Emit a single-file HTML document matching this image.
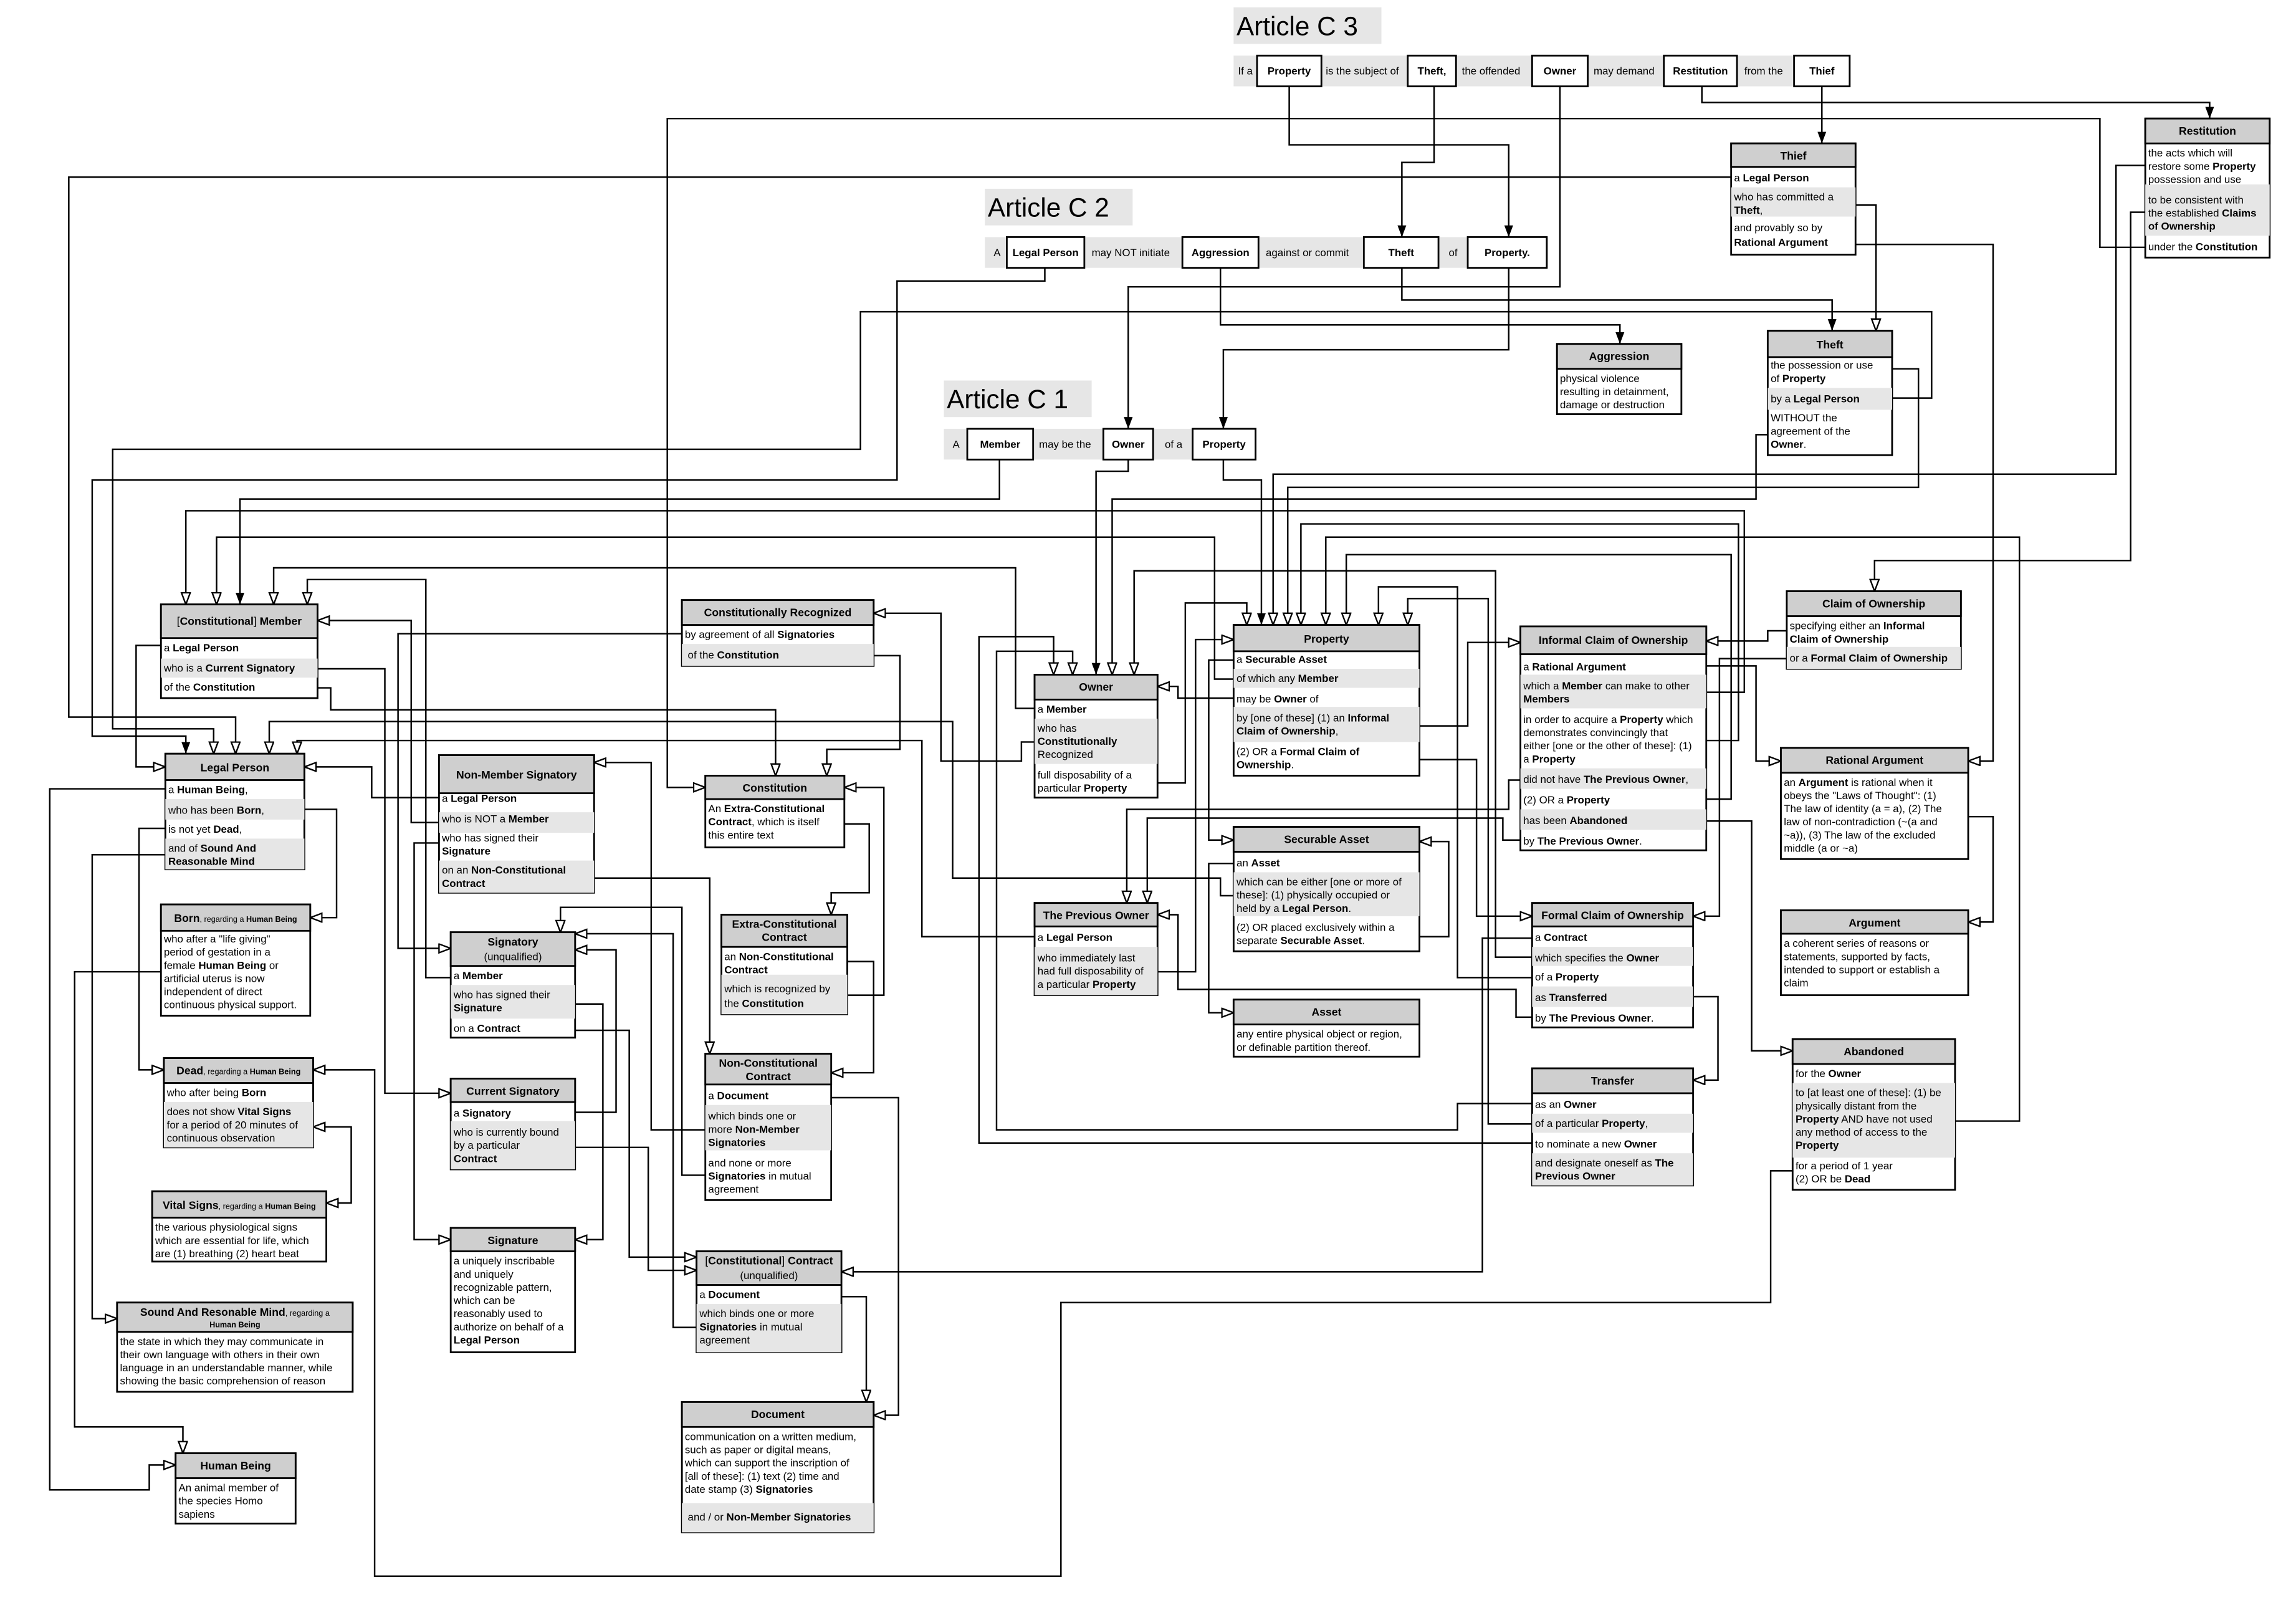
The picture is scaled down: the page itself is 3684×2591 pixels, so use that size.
<!DOCTYPE html>
<html><head><meta charset="utf-8"><style>
html,body{margin:0;padding:0;background:#fff}
svg{display:block}
.t{font-family:"Liberation Sans",Arial,sans-serif;font-size:7.2px;fill:#000}
.h{font-family:"Liberation Sans",Arial,sans-serif;font-size:7.5px;font-weight:bold;fill:#000}
.s{font-size:5.4px}
.b{font-weight:bold}
.l{fill:none;stroke:#000;stroke-width:1.05}
.bx{fill:#fff;stroke:#000;stroke-width:1.2}
.hd{fill:#cfcfcf;stroke:#000;stroke-width:1.2}
.g{fill:#e6e6e6}
.ti{font-family:"Liberation Sans",Arial,sans-serif;font-size:18px;fill:#000}
</style></head><body>
<svg width="3684" height="2591" viewBox="0 0 1569 1103.5" preserveAspectRatio="none" xmlns="http://www.w3.org/2000/svg">
<defs>
<marker id="f" markerUnits="userSpaceOnUse" markerWidth="9" markerHeight="7" refX="8" refY="3" orient="auto"><path d="M0,0 L8,3 L0,6 z" fill="#000"/></marker>
<marker id="o" markerUnits="userSpaceOnUse" markerWidth="10" markerHeight="8" refX="8.5" refY="3.5" orient="auto"><path d="M0.5,0.5 L8.5,3.5 L0.5,6.5 z" fill="#fff" stroke="#000" stroke-width="1"/></marker>
<marker id="os" markerUnits="userSpaceOnUse" markerWidth="10" markerHeight="8" refX="0.5" refY="3.5" orient="auto"><path d="M8.5,0.5 L0.5,3.5 L8.5,6.5 z" fill="#fff" stroke="#000" stroke-width="1"/></marker>
</defs>
<rect width="1569" height="1103.5" fill="#fff"/>

<!-- ===== connectors ===== -->
<g class="l">
<polyline points="881,59 881,99 1031,99 1031,162" marker-end="url(#f)"/>
<polyline points="980,59 980,111 958,111 958,162" marker-end="url(#f)"/>
<polyline points="1066,59 1066,196 771,196 771,293" marker-end="url(#f)"/>
<polyline points="1163,59 1163,70 1510,70 1510,81" marker-end="url(#f)"/>
<polyline points="1245,59 1245,98" marker-end="url(#f)"/>
<polyline points="834,183 834,222 1107,222 1107,235" marker-end="url(#f)"/>
<polyline points="958,183 958,205 1252,205 1252,226" marker-end="url(#f)"/>
<polyline points="1031,183 1031,239 836,239 836,293" marker-end="url(#f)"/>
<polyline points="1466,169 1435,169 1435,81 456,81 456,538 482,538" marker-end="url(#o)"/>
<polyline points="1183,121 47,121 47,490 161,490 161,515" marker-end="url(#o)"/>
<polyline points="714,183 714,192 613,192 613,328 63,328 63,503 127,503 127,515" marker-end="url(#f)"/>
<polyline points="1293,272 1320,272 1320,213 588,213 588,307 77,307 77,498 146,498 146,515" marker-end="url(#o)"/>
<polyline points="683,314 683,341 164,341 164,413" marker-end="url(#f)"/>
<polyline points="1166,473 1192,473 1192,349 127,349 127,413" marker-end="url(#o)"/>
<polyline points="1166,455 1200,455 1200,520 1217,520" marker-end="url(#o)"/>
<polyline points="843,464 830,464 830,367 148,367 148,413" marker-end="url(#o)"/>
<polyline points="1336,766 1380,766 1380,367 906,367 906,427" marker-end="url(#o)"/>
<polyline points="707,484 694,484 694,388 187,388 187,413" marker-end="url(#o)"/>
<polyline points="308,668 291,668 291,396 210,396 210,413" marker-end="url(#o)"/>
<polyline points="300,562 281,562 281,424 217,424" marker-end="url(#o)"/>
<polyline points="217,457 263,457 263,747 308,747" marker-end="url(#o)"/>
<polyline points="466,433 272,433 272,648 308,648" marker-end="url(#o)"/>
<polyline points="217,470 226,470 226,485 530,485 530,530" marker-end="url(#o)"/>
<polyline points="843,612 834,612 834,600 651,600 651,493 184,493 184,515" marker-end="url(#o)"/>
<polyline points="707,640 630,640 630,506 203,506 203,515" marker-end="url(#o)"/>
<polyline points="300,545 254,545 254,524 208,524" marker-end="url(#o)"/>
<polyline points="110,441 93,441 93,524 113,524" marker-end="url(#o)"/>
<polyline points="113,539 34,539 34,1018 102,1018 102,1001 120,1001" marker-end="url(#o)"/>
<polyline points="208,553 230,553 230,627 212,627" marker-end="url(#o)"/>
<polyline points="113,566 95,566 95,731 112,731" marker-end="url(#o)"/>
<polyline points="113,584 63,584 63,901 80,901" marker-end="url(#o)"/>
<polyline points="110,664 51,664 51,975 125,975 125,993" marker-end="url(#o)"/>
<polyline points="214,770 240,770 240,822 223,822" marker-end="url(#o)" marker-start="url(#os)"/>
<polyline points="1225,800 1210,800 1210,890 725,890 725,1077 256,1077 256,731 214,731" marker-end="url(#o)"/>
<polyline points="482,772 445,772 445,521 406,521" marker-end="url(#o)"/>
<polyline points="300,576 283,576 283,847 308,847" marker-end="url(#o)"/>
<polyline points="406,600 485,600 485,720" marker-end="url(#o)"/>
<polyline points="482,803 466,803 466,620 383,620 383,637" marker-end="url(#o)"/>
<polyline points="476,907 460,907 460,638 393,638" marker-end="url(#o)"/>
<polyline points="393,760 421,760 421,649 393,649" marker-end="url(#o)"/>
<polyline points="393,686 412,686 412,847 393,847" marker-end="url(#o)"/>
<polyline points="393,704 430,704 430,859 476,859" marker-end="url(#o)"/>
<polyline points="393,784 443,784 443,868 476,868" marker-end="url(#o)"/>
<polyline points="568,750 614,750 614,967 597,967" marker-end="url(#o)"/>
<polyline points="575,886 592,886 592,958" marker-end="url(#o)"/>
<polyline points="579,680 604,680 604,538 577,538" marker-end="url(#o)"/>
<polyline points="577,563 594,563 594,610 568,610 568,625" marker-end="url(#o)"/>
<polyline points="579,657 597,657 597,733 568,733" marker-end="url(#o)"/>
<polyline points="597,448 615,448 615,512 565,512 565,530" marker-end="url(#o)"/>
<polyline points="707,507 698,507 698,520 643,520 643,419 597,419" marker-end="url(#o)"/>
<polyline points="771,314 771,322 749,322 749,461" marker-end="url(#f)"/>
<polyline points="1047,781 669,781 669,435 720,435 720,461" marker-end="url(#o)"/>
<polyline points="1047,754 996,754 996,772 681,772 681,445 733,445 733,461" marker-end="url(#o)"/>
<polyline points="1208,297 1200,297 1200,341 760,341 760,461" marker-end="url(#o)"/>
<polyline points="1047,654 1022,654 1022,390 775,390 775,461" marker-end="url(#o)"/>
<polyline points="843,477 805,477 805,469 791,469" marker-end="url(#o)"/>
<polyline points="791,535 810,535 810,412 852,412 852,427" marker-end="url(#o)"/>
<polyline points="791,664 817,664 817,437 843,437" marker-end="url(#o)"/>
<polyline points="843,451 826,451 826,574 843,574" marker-end="url(#o)"/>
<polyline points="843,590 826,590 826,692 843,692" marker-end="url(#o)"/>
<polyline points="836,314 836,328 862,328 862,427" marker-end="url(#f)"/>
<polyline points="1466,113 1446,113 1446,324 870,324 870,427" marker-end="url(#o)"/>
<polyline points="1293,252 1311,252 1311,333 880,333 880,427" marker-end="url(#o)"/>
<polyline points="1166,506 1188,506 1188,358 889,358 889,427" marker-end="url(#o)"/>
<polyline points="1166,546 1183,546 1183,379 920,379 920,427" marker-end="url(#o)"/>
<polyline points="1047,668 996,668 996,401 942,401 942,427" marker-end="url(#o)"/>
<polyline points="1047,768 1017,768 1017,409 962,409 962,427" marker-end="url(#o)"/>
<polyline points="970,496 1003,496 1003,439 1039,439" marker-end="url(#o)"/>
<polyline points="970,519 1009,519 1009,626 1047,626" marker-end="url(#o)"/>
<polyline points="970,640 990,640 990,575 970,575" marker-end="url(#o)"/>
<polyline points="1039,533 1031,533 1031,553 770,553 770,617" marker-end="url(#o)"/>
<polyline points="1039,574 1027,574 1027,559 784,559 784,617" marker-end="url(#o)"/>
<polyline points="1166,561 1197,561 1197,718 1225,718" marker-end="url(#o)"/>
<polyline points="1221,431 1208,431 1208,438 1166,438" marker-end="url(#o)"/>
<polyline points="1221,450 1175,450 1175,626 1157,626" marker-end="url(#o)"/>
<polyline points="1466,145 1456,145 1456,383 1281,383 1281,404" marker-end="url(#o)"/>
<polyline points="1268,140 1282,140 1282,226" marker-end="url(#o)"/>
<polyline points="1268,167 1362,167 1362,520 1345,520" marker-end="url(#o)"/>
<polyline points="1345,558 1362,558 1362,630 1345,630" marker-end="url(#o)"/>
<polyline points="1047,695 1036,695 1036,676 805,676 805,625 791,625" marker-end="url(#o)"/>
<polyline points="1047,641 1013,641 1013,869 575,869" marker-end="url(#o)"/>
<polyline points="1157,681 1174,681 1174,738 1157,738" marker-end="url(#o)"/>
</g>

<!-- ===== Article titles & sentences ===== -->
<rect x="843" y="5" width="101" height="25" fill="#e6e6e6"/>
<text x="845" y="24" class="ti">Article C 3</text>
<rect x="843" y="38" width="421" height="21" fill="#e6e6e6"/>
<text class="t" y="51"><tspan x="846">If a</tspan><tspan x="906">is the subject of</tspan><tspan x="999">the offended</tspan><tspan x="1089">may demand</tspan><tspan x="1192">from the</tspan></text>
<rect class="bx" x="859" y="38" width="44" height="21"/><text class="t b" x="881" y="51" text-anchor="middle">Property</text>
<rect class="bx" x="962" y="38" width="33" height="21"/><text class="t b" x="978.5" y="51" text-anchor="middle">Theft,</text>
<rect class="bx" x="1047" y="38" width="38" height="21"/><text class="t b" x="1066" y="51" text-anchor="middle">Owner</text>
<rect class="bx" x="1137" y="38" width="50" height="21"/><text class="t b" x="1162" y="51" text-anchor="middle">Restitution</text>
<rect class="bx" x="1226" y="38" width="38" height="21"/><text class="t b" x="1245" y="51" text-anchor="middle">Thief</text>

<rect x="673" y="129" width="101" height="25" fill="#e6e6e6"/>
<text x="675" y="148" class="ti">Article C 2</text>
<rect x="673" y="162" width="385" height="21" fill="#e6e6e6"/>
<text class="t" y="175"><tspan x="679">A</tspan><tspan x="746">may NOT initiate</tspan><tspan x="865">against or commit</tspan><tspan x="990">of</tspan></text>
<rect class="bx" x="688" y="162" width="53" height="21"/><text class="t b" x="714.5" y="175" text-anchor="middle">Legal Person</text>
<rect class="bx" x="808" y="162" width="52" height="21"/><text class="t b" x="834" y="175" text-anchor="middle">Aggression</text>
<rect class="bx" x="932" y="162" width="51" height="21"/><text class="t b" x="957.5" y="175" text-anchor="middle">Theft</text>
<rect class="bx" x="1003" y="162" width="54" height="21"/><text class="t b" x="1030" y="175" text-anchor="middle">Property.</text>

<rect x="645" y="260" width="101" height="25" fill="#e6e6e6"/>
<text x="647" y="279" class="ti">Article C 1</text>
<rect x="645" y="293" width="213" height="21" fill="#e6e6e6"/>
<text class="t" y="306"><tspan x="651">A</tspan><tspan x="710">may be the</tspan><tspan x="796">of a</tspan></text>
<rect class="bx" x="661" y="293" width="45" height="21"/><text class="t b" x="683.5" y="306" text-anchor="middle">Member</text>
<rect class="bx" x="754" y="293" width="34" height="21"/><text class="t b" x="771" y="306" text-anchor="middle">Owner</text>
<rect class="bx" x="815" y="293" width="43" height="21"/><text class="t b" x="836.5" y="306" text-anchor="middle">Property</text>

<!-- ===== Thief ===== -->
<g>
<rect class="bx" x="1183" y="98" width="85" height="76"/>
<rect class="g" x="1183" y="128" width="85" height="20"/>
<rect class="hd" x="1183" y="98" width="85" height="16"/>
<text class="h" x="1225.5" y="109" text-anchor="middle">Thief</text>
<text class="t" x="1185" y="124">a <tspan class="b">Legal Person</tspan></text>
<text class="t" x="1185" y="137">who has committed a</text>
<text class="t b" x="1185" y="146">Theft<tspan font-weight="normal">,</tspan></text>
<text class="t" x="1185" y="158">and provably so by</text>
<text class="t b" x="1185" y="168">Rational Argument</text>
</g>
<!-- Restitution -->
<g>
<rect class="bx" x="1466" y="81" width="85" height="95"/>
<rect class="g" x="1466" y="126" width="85" height="35"/>
<rect class="hd" x="1466" y="81" width="85" height="17"/>
<text class="h" x="1508.5" y="92" text-anchor="middle">Restitution</text>
<text class="t" x="1468" y="107">the acts which will</text>
<text class="t" x="1468" y="116">restore some <tspan class="b">Property</tspan></text>
<text class="t" x="1468" y="125">possession and use</text>
<text class="t" x="1468" y="139">to be consistent with</text>
<text class="t" x="1468" y="148">the established <tspan class="b">Claims</tspan></text>
<text class="t b" x="1468" y="157">of Ownership</text>
<text class="t" x="1468" y="171">under the <tspan class="b">Constitution</tspan></text>
</g>
<!-- Aggression -->
<g>
<rect class="bx" x="1064" y="235" width="85" height="48"/>
<rect class="hd" x="1064" y="235" width="85" height="17"/>
<text class="h" x="1106.5" y="246" text-anchor="middle">Aggression</text>
<text class="t" x="1066" y="261">physical violence</text>
<text class="t" x="1066" y="270">resulting in detainment,</text>
<text class="t" x="1066" y="279">damage or destruction</text>
</g>
<!-- Theft -->
<g>
<rect class="bx" x="1208" y="226" width="85" height="85"/>
<rect class="g" x="1208" y="265" width="85" height="15"/>
<rect class="hd" x="1208" y="226" width="85" height="18"/>
<text class="h" x="1250.5" y="238" text-anchor="middle">Theft</text>
<text class="t" x="1210" y="252">the possession or use</text>
<text class="t" x="1210" y="261">of <tspan class="b">Property</tspan></text>
<text class="t" x="1210" y="275">by a <tspan class="b">Legal Person</tspan></text>
<text class="t" x="1210" y="288">WITHOUT the</text>
<text class="t" x="1210" y="297">agreement of the</text>
<text class="t b" x="1210" y="306">Owner<tspan font-weight="normal">.</tspan></text>
</g>
<!-- Claim of Ownership -->
<g>
<rect class="bx" x="1221" y="404" width="119" height="53"/>
<rect class="g" x="1221" y="442" width="119" height="15"/>
<rect class="hd" x="1221" y="404" width="119" height="17"/>
<text class="h" x="1280.5" y="415" text-anchor="middle">Claim of Ownership</text>
<text class="t" x="1223" y="430">specifying either an <tspan class="b">Informal</tspan></text>
<text class="t b" x="1223" y="439">Claim of Ownership</text>
<text class="t" x="1223" y="452">or a <tspan class="b">Formal Claim of Ownership</tspan></text>
</g>
<!-- Rational Argument -->
<g>
<rect class="bx" x="1217" y="511" width="128" height="76"/>
<rect class="hd" x="1217" y="511" width="128" height="17"/>
<text class="h" x="1281" y="522" text-anchor="middle">Rational Argument</text>
<text class="t" x="1219" y="537">an <tspan class="b">Argument</tspan> is rational when it</text>
<text class="t" x="1219" y="546">obeys the "Laws of Thought": (1)</text>
<text class="t" x="1219" y="555">The law of identity (a = a), (2) The</text>
<text class="t" x="1219" y="564">law of non-contradiction (~(a and</text>
<text class="t" x="1219" y="573">~a)), (3) The law of the excluded</text>
<text class="t" x="1219" y="582">middle (a or ~a)</text>
</g>
<!-- Argument -->
<g>
<rect class="bx" x="1217" y="622" width="128" height="58"/>
<rect class="hd" x="1217" y="622" width="128" height="16"/>
<text class="h" x="1281" y="633" text-anchor="middle">Argument</text>
<text class="t" x="1219" y="647">a coherent series of reasons or</text>
<text class="t" x="1219" y="656">statements, supported by facts,</text>
<text class="t" x="1219" y="665">intended to support or establish a</text>
<text class="t" x="1219" y="674">claim</text>
</g>
<!-- Abandoned -->
<g>
<rect class="bx" x="1225" y="710" width="111" height="103"/>
<rect class="g" x="1225" y="740" width="111" height="51"/>
<rect class="hd" x="1225" y="710" width="111" height="17"/>
<text class="h" x="1280.5" y="721" text-anchor="middle">Abandoned</text>
<text class="t" x="1227" y="736">for the <tspan class="b">Owner</tspan></text>
<text class="t" x="1227" y="749">to [at least one of these]: (1) be</text>
<text class="t" x="1227" y="758">physically distant from the</text>
<text class="t" x="1227" y="767"><tspan class="b">Property</tspan> AND have not used</text>
<text class="t" x="1227" y="776">any method of access to the</text>
<text class="t b" x="1227" y="785">Property</text>
<text class="t" x="1227" y="799">for a period of 1 year</text>
<text class="t" x="1227" y="808">(2) OR be <tspan class="b">Dead</tspan></text>
</g>
<!-- Informal Claim of Ownership -->
<g>
<rect class="bx" x="1039" y="428" width="127" height="153"/>
<rect class="g" x="1039" y="461" width="127" height="23"/>
<rect class="g" x="1039" y="525" width="127" height="14"/>
<rect class="g" x="1039" y="553" width="127" height="14"/>
<rect class="hd" x="1039" y="428" width="127" height="19"/>
<text class="h" x="1102.5" y="440" text-anchor="middle">Informal Claim of Ownership</text>
<text class="t" x="1041" y="458">a <tspan class="b">Rational Argument</tspan></text>
<text class="t" x="1041" y="471">which a <tspan class="b">Member</tspan> can make to other</text>
<text class="t b" x="1041" y="480">Members</text>
<text class="t" x="1041" y="494">in order to acquire a <tspan class="b">Property</tspan> which</text>
<text class="t" x="1041" y="503">demonstrates convincingly that</text>
<text class="t" x="1041" y="512">either [one or the other of these]: (1)</text>
<text class="t" x="1041" y="521">a <tspan class="b">Property</tspan></text>
<text class="t" x="1041" y="535">did not have <tspan class="b">The Previous Owner</tspan>,</text>
<text class="t" x="1041" y="549">(2) OR a <tspan class="b">Property</tspan></text>
<text class="t" x="1041" y="563">has been <tspan class="b">Abandoned</tspan></text>
<text class="t" x="1041" y="577">by <tspan class="b">The Previous Owner</tspan>.</text>
</g>
<!-- Formal Claim -->
<g>
<rect class="bx" x="1047" y="617" width="110" height="85"/>
<rect class="g" x="1047" y="647" width="110" height="13"/>
<rect class="g" x="1047" y="674" width="110" height="14"/>
<rect class="hd" x="1047" y="617" width="110" height="16"/>
<text class="h" x="1102" y="628" text-anchor="middle">Formal Claim of Ownership</text>
<text class="t" x="1049" y="643">a <tspan class="b">Contract</tspan></text>
<text class="t" x="1049" y="657">which specifies the <tspan class="b">Owner</tspan></text>
<text class="t" x="1049" y="670">of a <tspan class="b">Property</tspan></text>
<text class="t" x="1049" y="684">as <tspan class="b">Transferred</tspan></text>
<text class="t" x="1049" y="698">by <tspan class="b">The Previous Owner</tspan>.</text>
</g>
<!-- Transfer -->
<g>
<rect class="bx" x="1047" y="730" width="110" height="80"/>
<rect class="g" x="1047" y="761" width="110" height="13"/>
<rect class="g" x="1047" y="788" width="110" height="22"/>
<rect class="hd" x="1047" y="730" width="110" height="17"/>
<text class="h" x="1102" y="741" text-anchor="middle">Transfer</text>
<text class="t" x="1049" y="757">as an <tspan class="b">Owner</tspan></text>
<text class="t" x="1049" y="770">of a particular <tspan class="b">Property</tspan>,</text>
<text class="t" x="1049" y="784">to nominate a new <tspan class="b">Owner</tspan></text>
<text class="t" x="1049" y="797">and designate oneself as <tspan class="b">The</tspan></text>
<text class="t b" x="1049" y="806">Previous Owner</text>
</g>
<!-- Property -->
<g>
<rect class="bx" x="843" y="427" width="127" height="103"/>
<rect class="g" x="843" y="457" width="127" height="13"/>
<rect class="g" x="843" y="483" width="127" height="24"/>
<rect class="hd" x="843" y="427" width="127" height="18"/>
<text class="h" x="906.5" y="439" text-anchor="middle">Property</text>
<text class="t" x="845" y="453">a <tspan class="b">Securable Asset</tspan></text>
<text class="t" x="845" y="466">of which any <tspan class="b">Member</tspan></text>
<text class="t" x="845" y="480">may be <tspan class="b">Owner</tspan> of</text>
<text class="t" x="845" y="493">by [one of these] (1) an <tspan class="b">Informal</tspan></text>
<text class="t" x="845" y="502"><tspan class="b">Claim of Ownership</tspan>,</text>
<text class="t" x="845" y="516">(2) OR a <tspan class="b">Formal Claim of</tspan></text>
<text class="t" x="845" y="525"><tspan class="b">Ownership</tspan>.</text>
</g>
<!-- Owner -->
<g>
<rect class="bx" x="707" y="461" width="84" height="84"/>
<rect class="g" x="707" y="491" width="84" height="31"/>
<rect class="hd" x="707" y="461" width="84" height="17"/>
<text class="h" x="749" y="472" text-anchor="middle">Owner</text>
<text class="t" x="709" y="487">a <tspan class="b">Member</tspan></text>
<text class="t" x="709" y="500">who has</text>
<text class="t b" x="709" y="509">Constitutionally</text>
<text class="t" x="709" y="518">Recognized</text>
<text class="t" x="709" y="532">full disposability of a</text>
<text class="t" x="709" y="541">particular <tspan class="b">Property</tspan></text>
</g>
<!-- Securable Asset -->
<g>
<rect class="bx" x="843" y="565" width="127" height="85"/>
<rect class="g" x="843" y="596" width="127" height="30"/>
<rect class="hd" x="843" y="565" width="127" height="17"/>
<text class="h" x="906.5" y="576" text-anchor="middle">Securable Asset</text>
<text class="t" x="845" y="592">an <tspan class="b">Asset</tspan></text>
<text class="t" x="845" y="605">which can be either [one or more of</text>
<text class="t" x="845" y="614">these]: (1) physically occupied or</text>
<text class="t" x="845" y="623">held by a <tspan class="b">Legal Person</tspan>.</text>
<text class="t" x="845" y="636">(2) OR placed exclusively within a</text>
<text class="t" x="845" y="645">separate <tspan class="b">Securable Asset</tspan>.</text>
</g>
<!-- Asset -->
<g>
<rect class="bx" x="843" y="683" width="127" height="39"/>
<rect class="hd" x="843" y="683" width="127" height="17"/>
<text class="h" x="906.5" y="694" text-anchor="middle">Asset</text>
<text class="t" x="845" y="709">any entire physical object or region,</text>
<text class="t" x="845" y="718">or definable partition thereof.</text>
</g>
<!-- The Previous Owner -->
<g>
<rect class="bx" x="707" y="617" width="84" height="63"/>
<rect class="g" x="707" y="647" width="84" height="33"/>
<rect class="hd" x="707" y="617" width="84" height="16"/>
<text class="h" x="749" y="628" text-anchor="middle">The Previous Owner</text>
<text class="t" x="709" y="643">a <tspan class="b">Legal Person</tspan></text>
<text class="t" x="709" y="657">who immediately last</text>
<text class="t" x="709" y="666">had full disposability of</text>
<text class="t" x="709" y="675">a particular <tspan class="b">Property</tspan></text>
</g>
<!-- Constitutionally Recognized -->
<g>
<rect class="bx" x="466" y="410" width="131" height="45"/>
<rect class="g" x="466" y="440" width="131" height="15"/>
<rect class="hd" x="466" y="410" width="131" height="17"/>
<text class="h" x="531.5" y="421" text-anchor="middle">Constitutionally Recognized</text>
<text class="t" x="468" y="436">by agreement of all <tspan class="b">Signatories</tspan></text>
<text class="t" x="470" y="450">of the <tspan class="b">Constitution</tspan></text>
</g>
<!-- Constitution -->
<g>
<rect class="bx" x="482" y="530" width="95" height="49"/>
<rect class="hd" x="482" y="530" width="95" height="16"/>
<text class="h" x="529.5" y="541" text-anchor="middle">Constitution</text>
<text class="t" x="484" y="555">An <tspan class="b">Extra-Constitutional</tspan></text>
<text class="t" x="484" y="564"><tspan class="b">Contract</tspan>, which is itself</text>
<text class="t" x="484" y="573">this entire text</text>
</g>
<!-- Extra-Constitutional Contract -->
<g>
<rect class="bx" x="493" y="625" width="86" height="68"/>
<rect class="g" x="493" y="666" width="86" height="27"/>
<rect class="hd" x="493" y="625" width="86" height="22"/>
<text class="h" x="536" y="634" text-anchor="middle">Extra-Constitutional</text>
<text class="h" x="536" y="643" text-anchor="middle">Contract</text>
<text class="t" x="495" y="656">an <tspan class="b">Non-Constitutional</tspan></text>
<text class="t b" x="495" y="665">Contract</text>
<text class="t" x="495" y="678">which is recognized by</text>
<text class="t" x="495" y="688">the <tspan class="b">Constitution</tspan></text>
</g>
<!-- Non-Constitutional Contract -->
<g>
<rect class="bx" x="482" y="720" width="86" height="100"/>
<rect class="g" x="482" y="755" width="86" height="31"/>
<rect class="hd" x="482" y="720" width="86" height="21"/>
<text class="h" x="525" y="729" text-anchor="middle">Non-Constitutional</text>
<text class="h" x="525" y="738" text-anchor="middle">Contract</text>
<text class="t" x="484" y="751">a <tspan class="b">Document</tspan></text>
<text class="t" x="484" y="765">which binds one or</text>
<text class="t" x="484" y="774">more <tspan class="b">Non-Member</tspan></text>
<text class="t b" x="484" y="783">Signatories</text>
<text class="t" x="484" y="797">and none or more</text>
<text class="t" x="484" y="806"><tspan class="b">Signatories</tspan> in mutual</text>
<text class="t" x="484" y="815">agreement</text>
</g>
<!-- [Constitutional] Contract -->
<g>
<rect class="bx" x="476" y="855" width="99" height="69"/>
<rect class="g" x="476" y="891" width="99" height="33"/>
<rect class="hd" x="476" y="855" width="99" height="23"/>
<text class="h" x="525.5" y="864" text-anchor="middle"><tspan font-weight="normal">[</tspan>Constitutional<tspan font-weight="normal">]</tspan> Contract</text>
<text class="t" x="525.5" y="874" text-anchor="middle">(unqualified)</text>
<text class="t" x="478" y="887">a <tspan class="b">Document</tspan></text>
<text class="t" x="478" y="900">which binds one or more</text>
<text class="t" x="478" y="909"><tspan class="b">Signatories</tspan> in mutual</text>
<text class="t" x="478" y="918">agreement</text>
</g>
<!-- Document -->
<g>
<rect class="bx" x="466" y="958" width="131" height="89"/>
<rect class="g" x="466" y="1027" width="131" height="20"/>
<rect class="hd" x="466" y="958" width="131" height="17"/>
<text class="h" x="531.5" y="969" text-anchor="middle">Document</text>
<text class="t" x="468" y="984">communication on a written medium,</text>
<text class="t" x="468" y="993">such as paper or digital means,</text>
<text class="t" x="468" y="1002">which can support the inscription of</text>
<text class="t" x="468" y="1011">[all of these]: (1) text (2) time and</text>
<text class="t" x="468" y="1020">date stamp (3) <tspan class="b">Signatories</tspan></text>
<text class="t" x="470" y="1039">and / or <tspan class="b">Non-Member Signatories</tspan></text>
</g>
<!-- [Constitutional] Member -->
<g>
<rect class="bx" x="110" y="413" width="107" height="64"/>
<rect class="g" x="110" y="450" width="107" height="13"/>
<rect class="hd" x="110" y="413" width="107" height="23"/>
<text class="h" x="163.5" y="427" text-anchor="middle"><tspan font-weight="normal">[</tspan>Constitutional<tspan font-weight="normal">]</tspan> Member</text>
<text class="t" x="112" y="445">a <tspan class="b">Legal Person</tspan></text>
<text class="t" x="112" y="459">who is a <tspan class="b">Current Signatory</tspan></text>
<text class="t" x="112" y="472">of the <tspan class="b">Constitution</tspan></text>
</g>
<!-- Legal Person -->
<g>
<rect class="bx" x="113" y="515" width="95" height="79"/>
<rect class="g" x="113" y="546" width="95" height="14"/>
<rect class="g" x="113" y="573" width="95" height="21"/>
<rect class="hd" x="113" y="515" width="95" height="18"/>
<text class="h" x="160.5" y="527" text-anchor="middle">Legal Person</text>
<text class="t" x="115" y="542">a <tspan class="b">Human Being</tspan>,</text>
<text class="t" x="115" y="556">who has been <tspan class="b">Born</tspan>,</text>
<text class="t" x="115" y="569">is not yet <tspan class="b">Dead</tspan>,</text>
<text class="t" x="115" y="582">and of <tspan class="b">Sound And</tspan></text>
<text class="t b" x="115" y="591">Reasonable Mind</text>
</g>
<!-- Non-Member Signatory -->
<g>
<rect class="bx" x="300" y="516" width="106" height="94"/>
<rect class="g" x="300" y="555" width="106" height="14"/>
<rect class="g" x="300" y="588" width="106" height="22"/>
<rect class="hd" x="300" y="516" width="106" height="26"/>
<text class="h" x="353" y="532" text-anchor="middle">Non-Member Signatory</text>
<text class="t" x="302" y="548">a <tspan class="b">Legal Person</tspan></text>
<text class="t" x="302" y="562">who is NOT a <tspan class="b">Member</tspan></text>
<text class="t" x="302" y="575">who has signed their</text>
<text class="t b" x="302" y="584">Signature</text>
<text class="t" x="302" y="597">on an <tspan class="b">Non-Constitutional</tspan></text>
<text class="t b" x="302" y="606">Contract</text>
</g>
<!-- Born -->
<g>
<rect class="bx" x="110" y="618" width="102" height="76"/>
<rect class="hd" x="110" y="618" width="102" height="18"/>
<text class="h" x="161" y="630" text-anchor="middle">Born<tspan font-weight="normal" class="s">, regarding a </tspan><tspan class="s">Human Being</tspan></text>
<text class="t" x="112" y="644">who after a "life giving"</text>
<text class="t" x="112" y="653">period of gestation in a</text>
<text class="t" x="112" y="662">female <tspan class="b">Human Being</tspan> or</text>
<text class="t" x="112" y="671">artificial uterus is now</text>
<text class="t" x="112" y="680">independent of direct</text>
<text class="t" x="112" y="689">continuous physical support.</text>
</g>
<!-- Signatory -->
<g>
<rect class="bx" x="308" y="637" width="85" height="72"/>
<rect class="g" x="308" y="673" width="85" height="23"/>
<rect class="hd" x="308" y="637" width="85" height="23"/>
<text class="h" x="350.5" y="646" text-anchor="middle">Signatory</text>
<text class="t" x="350.5" y="656" text-anchor="middle">(unqualified)</text>
<text class="t" x="310" y="669">a <tspan class="b">Member</tspan></text>
<text class="t" x="310" y="682">who has signed their</text>
<text class="t b" x="310" y="691">Signature</text>
<text class="t" x="310" y="705">on a <tspan class="b">Contract</tspan></text>
</g>
<!-- Dead -->
<g>
<rect class="bx" x="112" y="723" width="102" height="61"/>
<rect class="g" x="112" y="753" width="102" height="31"/>
<rect class="hd" x="112" y="723" width="102" height="17"/>
<text class="h" x="163" y="734" text-anchor="middle">Dead<tspan font-weight="normal" class="s">, regarding a </tspan><tspan class="s">Human Being</tspan></text>
<text class="t" x="114" y="749">who after being <tspan class="b">Born</tspan></text>
<text class="t" x="114" y="762">does not show <tspan class="b">Vital Signs</tspan></text>
<text class="t" x="114" y="771">for a period of 20 minutes of</text>
<text class="t" x="114" y="780">continuous observation</text>
</g>
<!-- Current Signatory -->
<g>
<rect class="bx" x="308" y="737" width="85" height="62"/>
<rect class="g" x="308" y="766" width="85" height="33"/>
<rect class="hd" x="308" y="737" width="85" height="16"/>
<text class="h" x="350.5" y="748" text-anchor="middle">Current Signatory</text>
<text class="t" x="310" y="763">a <tspan class="b">Signatory</tspan></text>
<text class="t" x="310" y="776">who is currently bound</text>
<text class="t" x="310" y="785">by a particular</text>
<text class="t b" x="310" y="794">Contract</text>
</g>
<!-- Vital Signs -->
<g>
<rect class="bx" x="104" y="814" width="119" height="48"/>
<rect class="hd" x="104" y="814" width="119" height="18"/>
<text class="h" x="163.5" y="826" text-anchor="middle">Vital Signs<tspan font-weight="normal" class="s">, regarding a </tspan><tspan class="s">Human Being</tspan></text>
<text class="t" x="106" y="841">the various physiological signs</text>
<text class="t" x="106" y="850">which are essential for life, which</text>
<text class="t" x="106" y="859">are (1) breathing (2) heart beat</text>
</g>
<!-- Signature -->
<g>
<rect class="bx" x="308" y="839" width="85" height="85"/>
<rect class="hd" x="308" y="839" width="85" height="16"/>
<text class="h" x="350.5" y="850" text-anchor="middle">Signature</text>
<text class="t" x="310" y="864">a uniquely inscribable</text>
<text class="t" x="310" y="873">and uniquely</text>
<text class="t" x="310" y="882">recognizable pattern,</text>
<text class="t" x="310" y="891">which can be</text>
<text class="t" x="310" y="900">reasonably used to</text>
<text class="t" x="310" y="909">authorize on behalf of a</text>
<text class="t b" x="310" y="918">Legal Person</text>
</g>
<!-- Sound And Resonable Mind -->
<g>
<rect class="bx" x="80" y="890" width="161" height="61"/>
<rect class="hd" x="80" y="890" width="161" height="20"/>
<text class="h" x="160.5" y="899" text-anchor="middle">Sound And Resonable Mind<tspan font-weight="normal" class="s">, regarding a</tspan></text>
<text class="h s" x="160.5" y="907" text-anchor="middle">Human Being</text>
<text class="t" x="82" y="919">the state in which they may communicate in</text>
<text class="t" x="82" y="928">their own language with others in their own</text>
<text class="t" x="82" y="937">language in an understandable manner, while</text>
<text class="t" x="82" y="946">showing the basic comprehension of reason</text>
</g>
<!-- Human Being -->
<g>
<rect class="bx" x="120" y="993" width="82" height="48"/>
<rect class="hd" x="120" y="993" width="82" height="17"/>
<text class="h" x="161" y="1004" text-anchor="middle">Human Being</text>
<text class="t" x="122" y="1019">An animal member of</text>
<text class="t" x="122" y="1028">the species Homo</text>
<text class="t" x="122" y="1037">sapiens</text>
</g>
</svg>
</body></html>
